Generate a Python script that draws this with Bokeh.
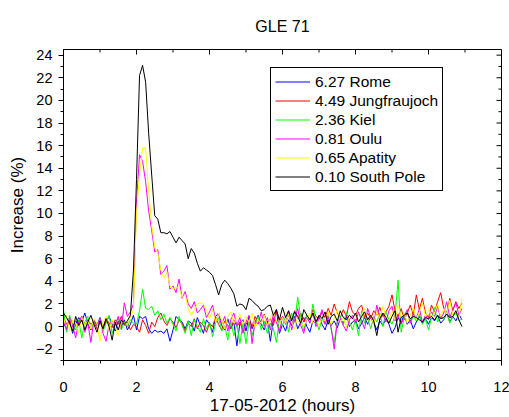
import math
from bokeh.plotting import figure
from bokeh.models import Range1d, SingleIntervalTicker, Legend, LegendItem, ColumnDataSource
from bokeh.embed import file_html
from bokeh.resources import INLINE

# time grid: 5-minute data from 00:00 UT (minutes after midnight)
minutes = list(range(0, 660, 5))

stations = ["6.27 Rome", "4.49 Jungfraujoch", "2.36 Kiel", "0.81 Oulu", "0.65 Apatity", "0.10 South Pole"]
colors = ["#0000FF", "#FF0000", "#00FF00", "#FF00FF", "#FFFF00", "#000000"]

rome = [0.3, -0.2, 0.5, -0.6, 0.2, 0.8, 0.4, 1.2, 0.3, -0.3, 0.6, 0.1,
        0.8, -0.1, 0.4, 0.9, 0.2, -0.4, 0.5, 0.0, 0.6, -0.3, 0.2, 1.0,
        -0.3, 0.9, 0.7, 0.9, -0.2, -0.6, -0.3, -0.5, -0.4, -0.6, -0.2, -1.3,
        -0.3, 0.9, 0.6, 0.4, -0.2, 0.5, 0.3, -0.4, 0.8, 0.1, -0.6, 0.6,
        0.2, -0.5, 0.9, 1.2, 0.1, -0.3, 0.7, -0.2, 0.4, -1.7, 0.3, 0.6,
        -0.4, 0.9, -0.2, 0.4, 1.0, 0.2, -0.3, 0.5, -1.3, 0.6, 1.5, -0.6,
        0.2, -0.4, 0.6, 0.1, 0.9, -0.2, 0.4, 0.8, 0.0, -0.5, 0.5, 0.3,
        0.9, 0.2, -0.3, 0.6, 0.1, 0.5, -0.1, 0.7, 0.3, 0.9, 0.0, 0.4,
        0.6, -0.2, 0.3, 0.8, 0.2, 1.0, 0.4, -0.3, 0.5, 0.1, 0.7, 0.2,
        -0.6, -0.1, 0.8, 0.3, 1.1, 0.2, 0.6, -0.2, 0.4, 0.9, 0.3, 0.7,
        0.2, 0.8, 0.5, 1.0, 0.3, 0.6, 1.2, 0.4, 0.9, 0.5, 1.1, 0.6]

jungfraujoch = [0.8, 0.2, 0.6, 0.0, 0.5, 0.3, 0.9, 0.1, 0.6, 0.2, 0.4, -0.2,
                0.5, 0.0, 0.7, 0.3, -0.1, 0.6, 0.2, 0.9, 0.1, 0.4, -0.3, 0.2,
                0.0, -0.5, 0.6, 0.1, -0.6, 0.4, 0.0, 0.8, 1.2, 0.5, 0.1, 0.7,
                0.4, -0.1, 0.6, 0.2, -0.4, 0.3, 0.0, 0.7, -0.2, 0.4, 0.1, -0.5,
                0.3, 0.0, 0.8, 0.2, -0.3, 0.5, 0.1, -0.2, 0.6, 0.0, 0.4, -0.4,
                0.2, 0.6, 0.0, 0.9, 0.3, 0.5, 1.1, 0.2, 0.7, 0.1, 1.3, 0.5,
                0.9, 0.3, 1.0, 0.6, 1.4, 0.7, 1.2, 0.4, 1.0, 0.6, 1.5, 0.9,
                0.7, 1.3, 0.8, 1.6, 1.0, 2.0, 1.2, 0.8, 1.5, 0.9, 2.2, 1.3,
                1.0, 1.6, 1.9, 0.8, 1.2, 0.7, 1.4, 1.0, 1.7, 0.9, 1.3, 1.8,
                2.8, 1.4, 0.9, 1.6, 0.6, 1.2, 1.9, 1.0, 2.8, 1.5, 2.5, 1.2,
                0.8, 1.9, 1.3, 2.2, 3.0, 1.6, 1.1, 2.5, 1.4, 2.2, 1.6, 2.1]

kiel = [1.5, -0.5, 1.0, 0.2, -0.3, 0.6, -1.0, 0.4, 0.9, -0.2, 0.5, 0.0,
        0.7, -0.4, 0.3, 1.0, -0.6, 0.2, 0.8, -0.3, 0.4, 0.0, 0.6, 0.3,
        0.2, 1.4, 3.3, 1.6, 1.5, 1.8, 1.0, 1.4, 0.6, 1.1, 0.3, 0.8,
        0.2, -0.4, 0.9, 0.1, -0.6, 0.5, -0.8, 0.6, 0.0, -0.5, 0.7, -0.2,
        0.4, -0.9, 0.3, 0.8, -0.4, 0.1, -1.2, 0.5, -0.8, 0.2, -1.5, 0.3,
        -1.5, 0.4, -0.8, 0.2, 0.9, -0.3, 0.5, -0.6, 0.3, -0.2, -1.4, 0.6,
        0.1, 0.9, -0.5, 1.2, 0.4, 2.6, 0.8, -0.4, 1.0, 0.3, 2.0, 0.5,
        -0.3, 0.7, 0.2, 1.1, -0.2, -1.4, 0.5, 0.9, 0.1, 1.3, 0.4, -0.3,
        0.6, -0.8, 1.4, 0.3, 0.8, -0.2, 0.9, 0.4, 1.2, 0.0, 1.3, 0.6,
        0.2, 1.0, 4.1, -0.5, 0.8, 1.3, 0.3, 0.9, 0.5, 1.1, 0.2, 0.7,
        -0.3, 0.8, 1.7, 0.4, 1.0, 0.6, 1.4, 0.3, 0.9, 1.2, 0.5, 0.7]

oulu = [0.5, -0.3, 0.8, 0.1, -1.0, 0.4, 0.9, -0.5, 0.3, -1.4, 0.6, 0.0,
        0.7, -0.6, -1.3, 0.2, 0.5, 0.1, 0.9, -0.2, 2.1, 0.9, 1.3, 2.0,
        11.0, 15.2, 14.6, 12.8, 10.2, 8.5, 6.6, 6.8, 4.6, 4.9, 5.4, 3.3,
        3.6, 3.0, 4.2, 2.5, 3.1, 2.0, 1.6, 2.2, 1.2, 1.5, 1.9, 0.8,
        1.3, 1.9, 0.6, 1.1, 0.2, 0.9, -0.4, 0.6, 1.2, 0.1, 0.8, -0.6,
        0.4, 1.0, -1.5, 0.5, 0.2, 1.3, 0.0, 0.8, -0.3, 1.1, 0.4, -0.5,
        0.9, 0.2, 1.4, -0.3, 0.6, 1.6, 0.1, -0.6, 0.8, 0.3, 1.2, 0.0,
        0.7, 1.5, 0.2, 0.9, -0.1, -2.0, 0.4, 0.8, 0.1, -0.4, 0.6, 1.0,
        0.3, 1.3, 0.5, -0.2, 1.6, 0.8, 0.2, 1.9, 0.6, 1.1, 0.4, 1.4,
        1.8, 0.5, 1.0, 0.2, 0.9, 1.5, 0.3, 1.2, 0.7, 1.6, 0.4, 1.0,
        0.6, 1.3, 0.9, 1.8, 0.7, 1.2, 2.2, 0.8, 1.5, 2.1, 1.0, 1.6]

apatity = [0.2, 1.0, -0.4, 0.6, 0.3, -0.5, 0.8, 0.1, 0.5, -0.2, 0.7, 0.3,
           -1.3, 0.4, 0.9, -0.3, 0.6, 0.0, -0.8, 0.5, 0.3, 0.2, 0.8, 1.5,
           10.0, 13.5, 15.8, 15.8, 12.0, 9.0, 7.0, 6.5, 5.0, 4.3, 4.8, 3.6,
           3.3, 3.5, 3.4, 2.6, 2.8, 1.6, 1.0, 1.5, 2.0, 2.1, 2.0, 1.4,
           0.7, 1.5, 0.4, 1.2, 0.6, -0.2, 0.9, 1.3, 0.3, 0.8, 1.1, 0.2,
           0.9, 0.4, 1.2, -0.1, 0.6, 0.3, 1.0, 0.1, 0.7, 1.4, 0.5, 0.2,
           0.8, 0.3, 1.1, 0.5, -0.2, 0.9, 0.4, 0.0, 0.7, 1.2, 0.3, 0.6,
           0.1, 0.9, 0.5, 1.3, 0.2, 0.7, 1.5, 0.4, 0.8, 0.0, 1.1, 0.6,
           1.2, 0.4, 0.9, 1.6, 0.5, 1.0, 0.2, 1.3, 0.7, 1.8, 0.9, 0.5,
           1.4, 0.6, 1.9, 0.8, 1.2, 0.3, 1.0, 1.7, 0.6, 1.3, 2.1, 0.9,
           1.5, 0.8, 1.2, 2.0, 0.9, 1.6, 1.1, 2.3, 1.0, 1.4, 0.8, 2.5]

south_pole = [1.2, 0.8, 0.3, -0.4, 0.9, 0.1, 0.6, -0.3, 0.4, 1.0, 0.2, -0.5,
              0.5, -0.2, 0.7, 0.0, -1.2, 0.4, -0.3, 0.6, 0.2, 0.5, 1.0, 5.0,
              13.0, 22.2, 23.1, 21.6, 17.1, 13.4, 9.8, 9.5, 8.3, 8.3, 8.2, 8.4,
              7.9, 7.4, 7.9, 7.6, 7.3, 6.0, 6.9, 6.5, 5.6, 4.9, 5.2, 5.0,
              4.8, 4.5, 3.7, 2.8, 3.7, 4.1, 3.8, 3.4, 2.9, 1.8, 2.0, 1.9,
              1.5, 2.5, 2.3, 2.0, 1.8, 1.4, 1.5, 1.8, 1.9, 1.0, 1.5, 0.6,
              1.7, 0.8, 1.4, 0.5, 1.3, 0.9, 0.3, 1.5, 1.0, 0.6, 1.2, 0.4,
              1.0, 0.7, 1.3, 0.2, 0.9, 1.1, 0.5, 1.4, 0.8, 0.6, 1.0, 0.7,
              1.2, 0.4, 0.9, 1.3, 0.6, 1.0, 0.5, -0.8, 0.7, 1.2, 0.8, 0.3,
              0.9, 1.4, -0.5, 0.8, 1.0, 1.2, 0.7, 0.9, 0.8, 0.6, 0.4, 0.8,
              0.7, 0.9, 0.6, 1.0, 0.7, 0.8, 1.1, 0.8, 0.9, 1.4, 0.6, 0.0]

series = [rome, jungfraujoch, kiel, oulu, apatity, south_pole]

# axis settings
x_start, x_end, x_step = 0, 12, 2
y_start, y_end, y_step = -3, 24.5, 2

FONT = "Liberation Sans"

p = figure(width=509, height=417, output_backend="svg", toolbar_location=None,
           x_range=Range1d(x_start, x_end), y_range=Range1d(y_start, y_end),
           min_border_left=63, min_border_right=8, min_border_top=47, min_border_bottom=54,
           title="GLE 71")
p.grid.visible = False
p.outline_line_color = "black"
p.outline_line_alpha = 1.0
p.background_fill_color = "white"
p.border_fill_color = "white"

p.title.text_font = FONT
p.title.text_font_size = "16px"
p.title.text_font_style = "normal"
p.title.text_color = "black"
p.title.align = "center"
p.title.standoff = 30

hours = [m / 60 for m in minutes]
items = []
for name, col, vals in zip(stations, colors, series):
    src = ColumnDataSource(dict(x=hours, y=vals))
    r = p.line("x", "y", source=src, line_color=col, line_width=1)
    items.append(LegendItem(label=name, renderers=[r]))


def style_main(ax, label):
    ax.ticker = SingleIntervalTicker(interval=2, num_minor_ticks=2)
    ax.axis_label = label
    ax.axis_label_text_font = FONT
    ax.axis_label_text_font_size = "17px"
    ax.axis_label_text_font_style = "normal"
    ax.axis_label_text_color = "black"
    ax.major_label_text_font = FONT
    ax.major_label_text_font_size = "14.5px"
    ax.major_label_text_color = "black"
    ax.axis_line_color = "black"
    ax.major_tick_line_color = "black"
    ax.minor_tick_line_color = "black"
    ax.major_tick_out = 5
    ax.major_tick_in = 0
    ax.minor_tick_out = 3
    ax.minor_tick_in = 0


style_main(p.xaxis[0], "17-05-2012 (hours)")
p.xaxis[0].major_label_standoff = 16
p.xaxis[0].axis_label_standoff = 1
style_main(p.yaxis[0], "Increase (%)")
p.yaxis[0].major_label_standoff = 6
p.yaxis[0].axis_label_standoff = 6

# inward mirror ticks on the top and right frame edges
top_major = list(range(x_start, x_end + 1, x_step))
top_minor = list(range(x_start + 1, x_end, x_step))
right_major = list(range(-2, 25, y_step))
right_minor = list(range(-3, 25, y_step))
p.ray(x=top_major, y=[y_end] * len(top_major), length=5, length_units="screen",
      angle=-math.pi / 2, line_color="black", line_width=1)
p.ray(x=top_minor, y=[y_end] * len(top_minor), length=3, length_units="screen",
      angle=-math.pi / 2, line_color="black", line_width=1)
p.ray(x=[x_end] * len(right_major), y=right_major, length=5, length_units="screen",
      angle=math.pi, line_color="black", line_width=1)
p.ray(x=[x_end] * len(right_minor), y=right_minor, length=3, length_units="screen",
      angle=math.pi, line_color="black", line_width=1)

legend = Legend(items=items, location=(207, 169), margin=0, padding=4, spacing=0,
                glyph_width=35, glyph_height=19, label_height=19, label_standoff=5,
                label_text_font=FONT, label_text_font_size="15.5px", label_text_color="black",
                border_line_color="black", border_line_width=1, border_line_alpha=1.0,
                background_fill_color="white", background_fill_alpha=1.0)
p.add_layout(legend)

open("out.html", "w").write(file_html(p, INLINE))
